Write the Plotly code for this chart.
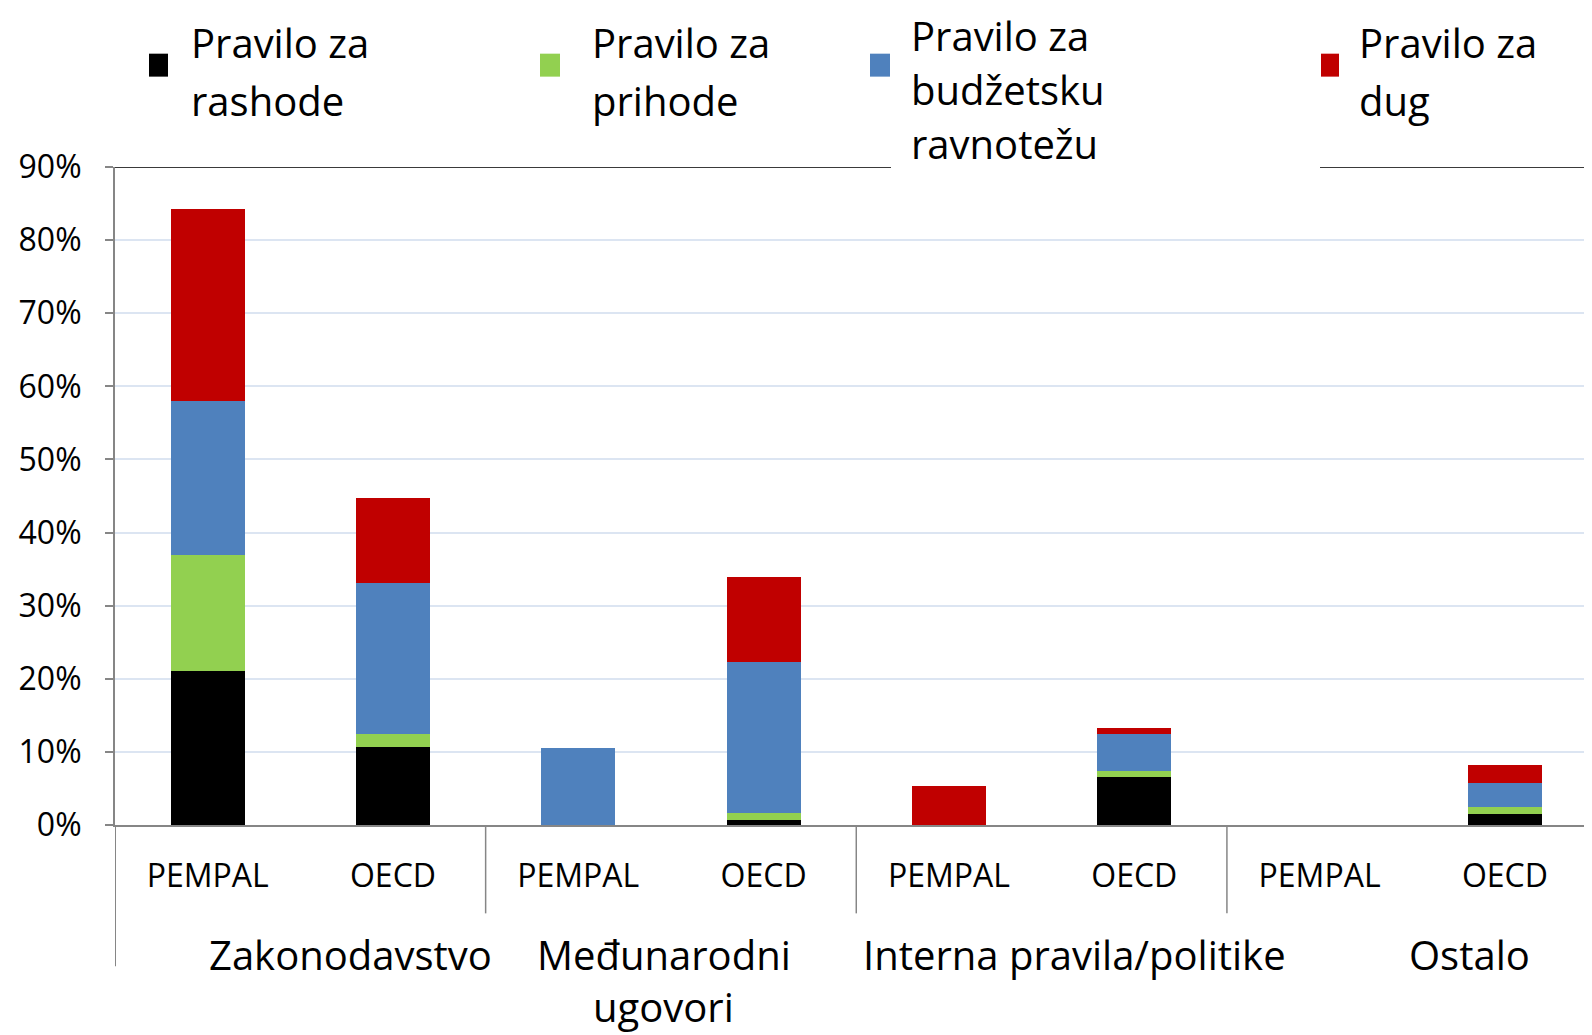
import plotly.graph_objects as go

# ---- data ----
groups = ["Zakonodavstvo", "Međunarodni ugovori", "Interna pravila/politike", "Ostalo"]
group_lines = [["Zakonodavstvo"], ["Međunarodni", "ugovori"], ["Interna pravila/politike"], ["Ostalo"]]
subgroups = ["PEMPAL", "OECD"]
series_names = ["Pravilo za rashode", "Pravilo za prihode", "Pravilo za budžetsku ravnotežu", "Pravilo za dug"]
series_lines = [["Pravilo za", "rashode"], ["Pravilo za", "prihode"],
                ["Pravilo za", "budžetsku", "ravnotežu"], ["Pravilo za", "dug"]]
rashode = [21.1, 10.7, 0.0, 0.7, 0.0, 6.5, 0.0, 1.5]
prihode = [15.8, 1.7, 0.0, 0.9, 0.0, 0.9, 0.0, 0.9]
budzet = [21.1, 20.7, 10.5, 20.7, 0.0, 5.0, 0.0, 3.3]
dug = [26.3, 11.6, 0.0, 11.6, 5.3, 0.8, 0.0, 2.5]
colors = ["#000000", "#92D050", "#4F81BD", "#C00000"]
y_ticks = [0, 10, 20, 30, 40, 50, 60, 70, 80, 90]
y_tick_labels = ["0%", "10%", "20%", "30%", "40%", "50%", "60%", "70%", "80%", "90%"]

# ---- geometry (page pixels; page body has an 8px margin) ----
OFF = 8
PAGE_W, PAGE_H = 1592, 1035
W, H = PAGE_W - OFF, PAGE_H - OFF
PL, PR, PT, PB = 115, 1592, 166.5, 825.5   # plot area in page pixels
ML, MT = PL - OFF, PT - OFF
MR = (OFF + W) - PR
MB = (OFF + H) - PB
PW, PH = PR - PL, PB - PT

def px(xp):
    return (xp - PL) / PW

def py(yp):
    return (PB - yp) / PH

FONT = "Open Sans"
tick_labels = [s for _ in groups for s in subgroups]
xpos = list(range(len(tick_labels)))

fig = go.Figure()
for name, vals, col in zip(series_names, [rashode, prihode, budzet, dug], colors):
    fig.add_trace(go.Bar(x=xpos, y=vals, name=name,
                         marker=dict(color=col, line=dict(width=0)),
                         width=0.4, showlegend=False))

shapes = []
annotations = []

# top border line at 90% (interrupted by legend text)
for a, b in [(0, px(891)), (px(1320), 1.0)]:
    shapes.append(dict(type="line", xref="paper", yref="y", x0=a, x1=b, y0=90, y1=90,
                       line=dict(color="#3A3A3A", width=2), layer="above"))

# group dividers
shapes.append(dict(type="line", xref="x", yref="paper", x0=-0.5, x1=-0.5, y0=0, y1=py(967),
                   line=dict(color="#868686", width=2)))
for k in range(1, len(groups)):
    xd = k * len(subgroups) - 0.5
    shapes.append(dict(type="line", xref="x", yref="paper", x0=xd, x1=xd, y0=0, y1=py(914),
                       line=dict(color="#868686", width=1.5)))

# group labels (one text per line)
group_x = [0.77, 2.46, 4.675, 6.81]
for lines, gx in zip(group_lines, group_x):
    for i, ln in enumerate(lines):
        annotations.append(dict(text=ln, x=gx, xref="x", y=py(955 + 52 * i), yref="paper",
                                xanchor="center", yanchor="middle", showarrow=False,
                                font=dict(family=FONT, size=40, color="#000000")))

# legend (manual)
leg_sq = [(149, 168), (540, 560), (870, 890), (1321, 1339)]
leg_tx = [189, 590, 909, 1357]
leg_y0 = [42, 42, 35, 42]
leg_pitch = [57.8, 57.8, 54, 57.8]
for lines, col, (a, b), tx, y0, pitch in zip(series_lines, colors, leg_sq, leg_tx, leg_y0, leg_pitch):
    shapes.append(dict(type="rect", xref="paper", yref="paper", x0=px(a), x1=px(b),
                       y0=py(76), y1=py(53), fillcolor=col, line=dict(width=0)))
    for i, ln in enumerate(lines):
        annotations.append(dict(text=ln, x=px(tx), xref="paper", y=py(y0 + pitch * i), yref="paper",
                                xanchor="left", yanchor="middle", align="left", showarrow=False,
                                font=dict(family=FONT, size=40, color="#000000")))

fig.update_layout(
    width=W, height=H,
    margin=dict(l=ML, r=MR, t=MT, b=MB),
    paper_bgcolor="white", plot_bgcolor="white",
    barmode="stack", bargap=0,
    shapes=shapes, annotations=annotations,
    xaxis=dict(range=[-0.5, 7.47], tickmode="array", tickvals=xpos, ticktext=tick_labels,
               showgrid=False, zeroline=False, showline=True, linecolor="#868686", linewidth=2,
               ticks="", tickfont=dict(family=FONT, size=32, color="#000000"),
               ticklabelstandoff=22),
    yaxis=dict(range=[0, 90], tickmode="array", tickvals=y_ticks, ticktext=y_tick_labels,
               showgrid=True, gridcolor="#DCE5F2", gridwidth=2, zeroline=False,
               showline=True, linecolor="#868686", linewidth=2,
               ticks="outside", ticklen=8, tickcolor="#868686", tickwidth=2,
               tickfont=dict(family=FONT, size=32, color="#000000"),
               ticklabelstandoff=17),
)

fig.write_html("out.html")
